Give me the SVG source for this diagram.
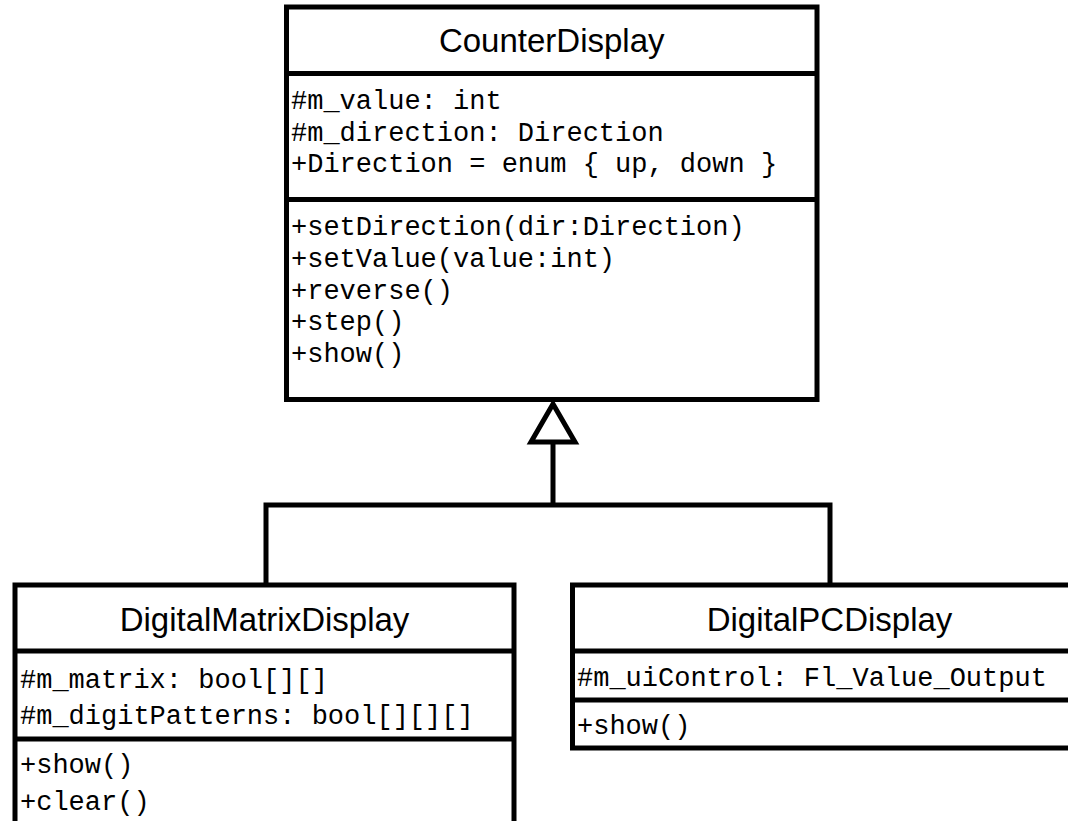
<svg xmlns="http://www.w3.org/2000/svg" width="1068" height="821" viewBox="0 0 1068 821">
<style>
.box{fill:#fff;stroke:#000;stroke-width:5}
.sep{stroke:#000;stroke-width:5}
.title{font-family:"Liberation Sans",Arial,sans-serif;font-size:33px;text-anchor:middle;fill:#000}
.mono{font-family:"Liberation Mono","Courier New",monospace;font-size:27px;fill:#000}
.conn{fill:none;stroke:#000;stroke-width:5}
</style>
<rect width="1068" height="821" fill="#fff"/>
<g id="connectors">
<polyline class="conn" points="266,585 266,505 830,505 830,585"/>
<line class="conn" x1="553" y1="505" x2="553" y2="442"/>
<polygon class="conn" points="553,404 531,442 575,442" style="fill:#fff"/>
</g>
<g id="CounterDisplay">
<rect class="box" x="286.5" y="7" width="530.5" height="392.5"/>
<line class="sep" x1="286.5" y1="73.5" x2="817" y2="73.5"/>
<line class="sep" x1="286.5" y1="199.5" x2="817" y2="199.5"/>
<text class="title" x="551.75" y="52">CounterDisplay</text>
<text class="mono" x="291" y="109">#m_value: int</text>
<text class="mono" x="291" y="141">#m_direction: Direction</text>
<text class="mono" x="291" y="172">+Direction = enum { up, down }</text>
<text class="mono" x="291" y="235">+setDirection(dir:Direction)</text>
<text class="mono" x="291" y="267">+setValue(value:int)</text>
<text class="mono" x="291" y="299">+reverse()</text>
<text class="mono" x="291" y="330">+step()</text>
<text class="mono" x="291" y="362">+show()</text>
</g>
<g id="DigitalMatrixDisplay">
<rect class="box" x="15" y="585" width="499" height="260"/>
<line class="sep" x1="15" y1="651" x2="514" y2="651"/>
<line class="sep" x1="15" y1="739" x2="514" y2="739"/>
<text class="title" x="264.5" y="631">DigitalMatrixDisplay</text>
<text class="mono" x="20" y="688">#m_matrix: bool[][]</text>
<text class="mono" x="20" y="724">#m_digitPatterns: bool[][][]</text>
<text class="mono" x="20" y="773">+show()</text>
<text class="mono" x="20" y="810">+clear()</text>
</g>
<g id="DigitalPCDisplay">
<rect class="box" x="572.5" y="585" width="514" height="163"/>
<line class="sep" x1="572.5" y1="651" x2="1086.5" y2="651"/>
<line class="sep" x1="572.5" y1="700" x2="1086.5" y2="700"/>
<text class="title" x="829.5" y="631">DigitalPCDisplay</text>
<text class="mono" x="577" y="686">#m_uiControl: Fl_Value_Output</text>
<text class="mono" x="577" y="734">+show()</text>
</g>
</svg>
